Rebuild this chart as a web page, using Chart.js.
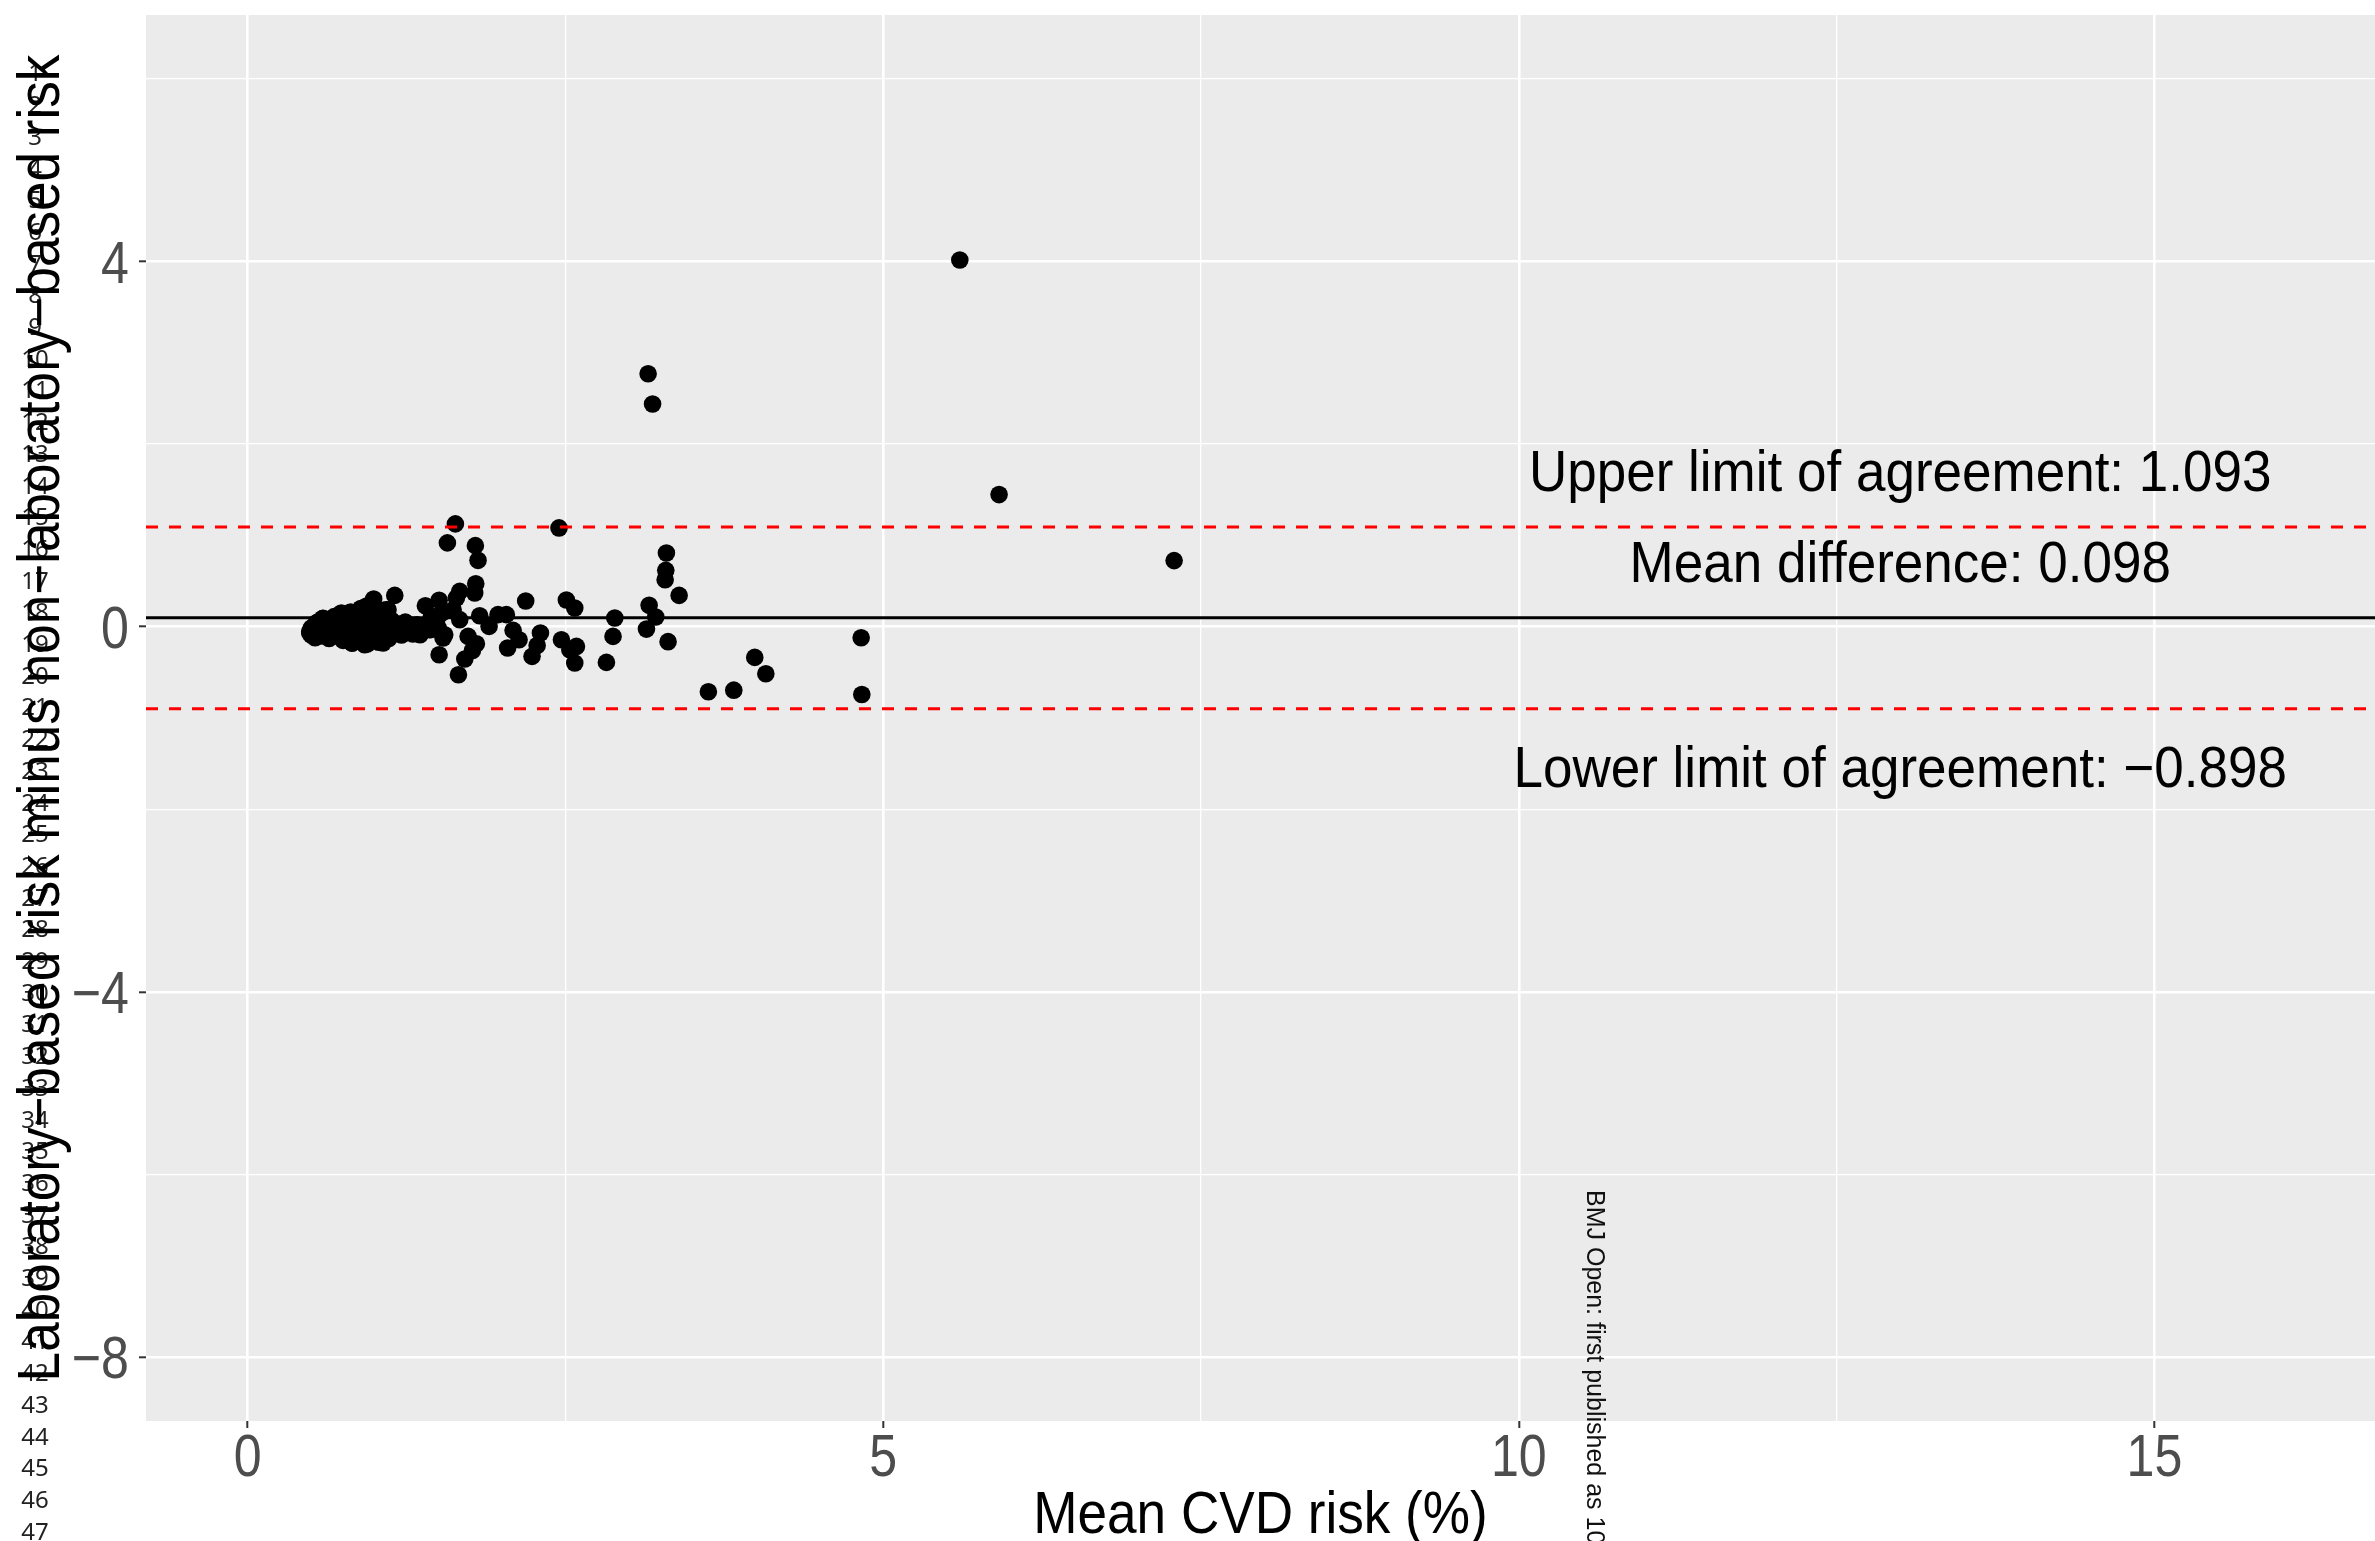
<!DOCTYPE html>
<html>
<head>
<meta charset="utf-8">
<script src="https://cdn.jsdelivr.net/npm/chart.js@4/dist/chart.umd.min.js"></script>
<style>
  html, body { margin: 0; padding: 0; background: #fff; }
  #wrap { width: 2375px; height: 1541px; }
</style>
</head>
<body>
<div id="wrap"><canvas id="chart" width="2375" height="1541"></canvas></div>
<script>
// mean CVD risk (%) for each person
const meanRisk = [
  1.634, 1.571, 1.791, 1.812, 1.794, 1.786, 1.668, 1.642, 1.506, 1.398,
  1.157, 0.991, 2.187, 2.449, 2.507, 2.573, 2.468, 2.534, 2.573, 2.586,
  2.035, 1.969, 1.899, 1.825, 2.088, 2.135, 2.303, 2.277, 2.237, 2.045,
  1.734, 1.799, 1.768, 1.708, 1.658, 1.506, 1.668, 1.537, 1.498, 1.524,
  1.356, 1.248, 1.209, 1.104, 1.065, 0.928, 0.823, 0.750, 0.639, 0.509,
  0.501, 0.593, 0.724, 0.829, 0.908, 0.960, 1.065, 1.039, 0.908, 0.776,
  0.671, 0.566, 1.144, 1.301, 1.432, 1.445, 1.616, 0.986, 0.855, 0.540,
  0.933, 0.488, 0.737, 0.920, 1.091, 1.550, 1.485,
  2.888, 2.874, 2.822, 3.158, 3.210, 3.137, 3.307, 3.294, 3.289, 3.284,
  3.394, 3.624, 3.824, 3.989, 4.076, 4.826, 4.831,
  3.150, 3.185, 5.602, 5.911, 7.288,
  0.49, 0.50, 0.52, 0.53, 0.55, 0.56, 0.58, 0.59, 0.61, 0.62,
  0.64, 0.65, 0.67, 0.68, 0.70, 0.71, 0.73, 0.74, 0.75, 0.77,
  0.78, 0.80, 0.81, 0.82, 0.84, 0.85, 0.87, 0.88, 0.89, 0.90,
  0.92, 0.93, 0.94, 0.96, 0.97, 0.98, 0.99, 1.01, 1.03, 1.04,
  1.06, 1.07, 1.09, 1.11, 1.13, 1.16, 1.19, 1.21, 1.24, 1.27,
  1.30, 1.33, 1.36, 1.40, 1.44
];
// laboratory-based minus non-laboratory-based risk
const riskDiff = [
  1.126, 0.918, 0.888, 0.727, 0.471, 0.369, 0.387, 0.314, 0.289, 0.230,
  0.343, 0.303, 0.282, 1.082, 0.292, 0.205, -0.143, -0.252, -0.398, -0.216,
  0.132, 0.132, 0.004, 0.120, -0.040, -0.143, -0.070, -0.205, -0.325, -0.234,
  -0.106, -0.186, -0.260, -0.354, -0.526, -0.307, 0.077, -0.124, -0.015, 0.146,
  -0.088, 0.040, -0.077, 0.186, -0.179, -0.179, -0.179, -0.106, -0.106, -0.088,
  -0.015, 0.091, 0.132, 0.146, 0.205, 0.241, 0.146, 0.040, 0.004, -0.015,
  -0.015, -0.033, 0.004, -0.015, -0.033, 0.113, 0.186, -0.070, -0.106, 0.040,
  0.223, -0.070, 0.150, -0.197, 0.186, -0.088, 0.040,
  0.095, -0.106, -0.391, 0.234, 0.106, -0.026, -0.164, 0.808, 0.617, 0.515,
  0.343, -0.713, -0.695, -0.336, -0.515, -0.121, -0.742,
  2.770, 2.440, 4.017, 1.447, 0.724,
  -0.05, -0.09, 0.00, -0.12, 0.05, -0.04, -0.10, 0.09, 0.02, -0.07,
  -0.13, 0.06, -0.02, 0.11, -0.09, 0.03, 0.14, -0.05, -0.15, 0.08,
  0.00, -0.11, 0.16, -0.18, 0.04, -0.07, 0.12, -0.14, 0.20, 0.01,
  -0.09, 0.09, -0.19, 0.24, -0.03, 0.15, -0.12, 0.05, -0.17, 0.10,
  -0.06, 0.18, 0.00, -0.13, 0.07, -0.04, 0.03, -0.09, 0.05, -0.02,
  -0.08, 0.02, -0.06, 0.01, -0.03
];

const meanDiff = 0.098;
const upperLimit = 1.093;
const lowerLimit = -0.898;

const xTicks = [0, 2.5, 5, 7.5, 10, 12.5, 15];
const yTicks = [-8, -6, -4, -2, 0, 2, 4, 6];
const xMajor = [0, 5, 10, 15];
const yMajor = [-8, -4, 0, 4];
const xRange = [-0.8, 16.735];
const yRange = [-8.7, 6.7];

const xTitle = "Mean CVD risk (%)";
const yTitle = "Laboratory\u2212based risk minus non\u2212laboratory\u2212based risk";
const labelTexts = [
  "Upper limit of agreement: 1.093",
  "Mean difference: 0.098",
  "Lower limit of agreement: \u22120.898"
];
const labelX = 13;
const labelY = [1.71, 0.71, -1.53];

const lineNumbers = [];
for (let i = 1; i <= 47; i++) lineNumbers.push(String(i));

const SANS = "'Liberation Sans', Arial, sans-serif";
const fmt = (v) => (v < 0 ? "\u2212" + Math.abs(v) : String(v));

const points = meanRisk.map((x, i) => ({ x, y: riskDiff[i] }));
const hline = (y) => [{ x: xRange[0], y }, { x: xRange[1], y }];

// text squeezed sideways a little, like the original export
function squeezed(ctx, text, x, y, size, sx, align, rot) {
  ctx.save();
  ctx.translate(x, y);
  if (rot) ctx.rotate(rot);
  ctx.scale(sx, 1);
  ctx.font = size + "px " + SANS;
  ctx.textAlign = align;
  ctx.textBaseline = "alphabetic";
  ctx.fillText(text, 0, size * 0.358);
  ctx.restore();
}

// grey panel behind the plot
const panelBg = {
  id: "panelBg",
  beforeDraw(chart) {
    const { ctx, chartArea: a } = chart;
    ctx.save();
    ctx.fillStyle = "#ffffff";
    ctx.fillRect(0, 0, chart.width, chart.height);
    ctx.fillStyle = "#EBEBEB";
    ctx.fillRect(a.left, a.top, a.right - a.left, a.bottom - a.top);
    ctx.restore();
  }
};

const extraText = {
  id: "extraText",
  afterDraw(chart) {
    const { ctx, chartArea: a } = chart;
    const xs = chart.scales.x, ys = chart.scales.y;
    ctx.save();

    // tick labels
    ctx.fillStyle = "#4D4D4D";
    xs.ticks.forEach((t) => {
      if (!xMajor.includes(t.value)) return;
      squeezed(ctx, fmt(t.value), xs.getPixelForValue(t.value), 1455, 59, 0.85, "center");
    });
    ys.ticks.forEach((t) => {
      if (!yMajor.includes(t.value)) return;
      squeezed(ctx, fmt(t.value), 129, ys.getPixelForValue(t.value), 59, 0.85, "right");
    });

    // manuscript line numbers in the margin
    ctx.font = "24px 'Noto Sans', sans-serif";
    ctx.fillStyle = "#222";
    ctx.textAlign = "center";
    ctx.textBaseline = "middle";
    lineNumbers.forEach((n, i) => {
      ctx.fillText(n, 35, 1406 - (42 - i) * 31.7);
    });

    // axis titles
    ctx.fillStyle = "#000";
    squeezed(ctx, xTitle, (a.left + a.right) / 2, 1512, 59, 0.9, "center");
    squeezed(ctx, yTitle, 38, (a.top + a.bottom) / 2, 59, 0.9, "center", -Math.PI / 2);

    // annotation labels
    labelTexts.forEach((t, i) => {
      squeezed(ctx, t, xs.getPixelForValue(labelX), ys.getPixelForValue(labelY[i]), 57, 0.93, "center");
    });

    // journal watermark
    ctx.translate(1594, 1190);
    ctx.rotate(Math.PI / 2);
    ctx.font = "25px " + SANS;
    ctx.fillStyle = "#111";
    ctx.textAlign = "left";
    ctx.textBaseline = "middle";
    ctx.fillText("BMJ Open: first published as 10.1136/bmjopen", 0, 0);
    ctx.restore();
  }
};

const gridOpts = (major) => ({
  color: "#ffffff",
  lineWidth: (c) => (major.includes(c.tick.value) ? 2.6 : 1.3),
  tickLength: 7,
  tickColor: (c) => (major.includes(c.tick.value) ? "#333333" : "rgba(0,0,0,0)"),
  tickWidth: 2
});

new Chart(document.getElementById("chart"), {
  type: "scatter",
  data: {
    datasets: [
      {
        data: points,
        pointRadius: 8.8,
        pointHoverRadius: 8.8,
        backgroundColor: "#000",
        borderWidth: 0,
        order: 2
      },
      {
        type: "line",
        data: hline(meanDiff),
        borderColor: "#000",
        borderWidth: 2.8,
        pointRadius: 0,
        order: 1
      },
      {
        type: "line",
        data: hline(upperLimit),
        borderColor: "#FF0000",
        borderWidth: 3,
        borderDash: [12, 11],
        pointRadius: 0,
        order: 1
      },
      {
        type: "line",
        data: hline(lowerLimit),
        borderColor: "#FF0000",
        borderWidth: 3,
        borderDash: [12, 11],
        pointRadius: 0,
        order: 1
      }
    ]
  },
  options: {
    responsive: false,
    animation: false,
    devicePixelRatio: 1,
    layout: { autoPadding: false, padding: { top: 15, left: 0, right: 0, bottom: 0 } },
    plugins: { legend: { display: false }, tooltip: { enabled: false } },
    scales: {
      x: {
        type: "linear",
        min: xRange[0],
        max: xRange[1],
        afterBuildTicks: (s) => { s.ticks = xTicks.map((v) => ({ value: v })); },
        afterFit: (s) => {
          s.height = 120;
          s.paddingLeft = 0; s.paddingRight = 0;
        },
        border: { display: false },
        grid: gridOpts(xMajor),
        ticks: { display: false }
      },
      y: {
        type: "linear",
        min: yRange[0],
        max: yRange[1],
        afterBuildTicks: (s) => { s.ticks = yTicks.map((v) => ({ value: v })); },
        afterFit: (s) => {
          s.width = 146;
          s.paddingTop = 0; s.paddingBottom = 0;
        },
        border: { display: false },
        grid: gridOpts(yMajor),
        ticks: { display: false }
      }
    }
  },
  plugins: [panelBg, extraText]
});
</script>
</body>
</html>
